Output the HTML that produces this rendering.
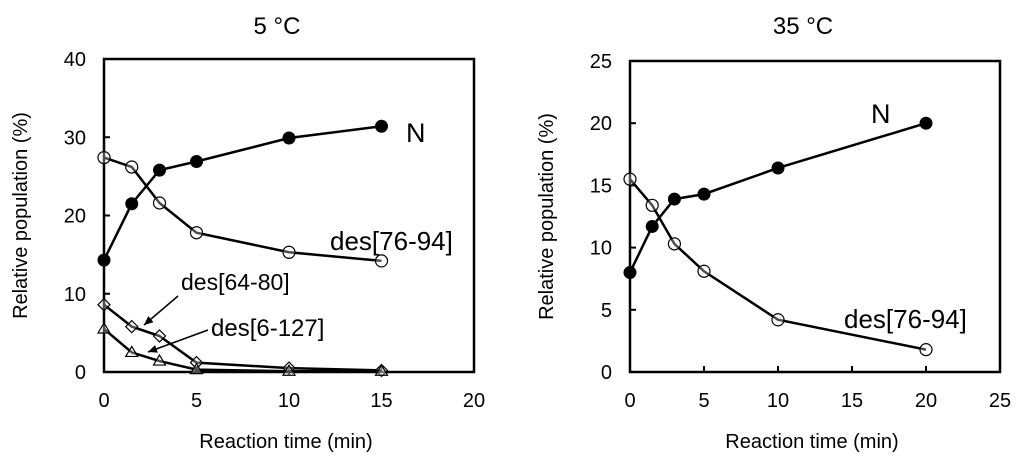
<!DOCTYPE html>
<html><head><meta charset="utf-8"><style>
html,body{margin:0;padding:0;background:#fff;}
svg{display:block;font-family:"Liberation Sans",Arial,sans-serif;}
</style></head><body>
<svg id="c" width="1024" height="471"></svg>
<script>
const leftTimes=[0,1.5,3,5,10,15];
const leftN=[14.3,21.5,25.8,26.9,29.9,31.4];
const leftDes7694=[27.4,26.2,21.6,17.8,15.3,14.2];
const leftDes6480=[8.6,5.8,4.6,1.2,0.5,0.2];
const leftDes6127=[5.5,2.5,1.4,0.3,0.1,0.1];
const leftXTicks=[0,5,10,15,20];
const leftYTicks=[0,10,20,30,40];
const rightTimes=[0,1.5,3,5,10,20];
const rightN=[8,11.7,13.9,14.3,16.4,20];
const rightDes7694=[15.5,13.4,10.3,8.1,4.2,1.8];
const rightXTicks=[0,5,10,15,20,25];
const rightYTicks=[0,5,10,15,20,25];

const NS="http://www.w3.org/2000/svg";
const svg=document.getElementById('c');
function el(tag,attrs,parent,text){const e=document.createElementNS(NS,tag);for(const k in attrs)e.setAttribute(k,attrs[k]);if(text!==undefined)e.textContent=text;(parent||svg).appendChild(e);return e;}

function panel(cfg){
  const g=el('g',{});
  
  
  const sx=v=>cfg.x0+(v-cfg.xmin)/(cfg.xmax-cfg.xmin)*(cfg.x1-cfg.x0);
  const sy=v=>cfg.y0-(v-cfg.ymin)/(cfg.ymax-cfg.ymin)*(cfg.y0-cfg.y1);
  const frame=el('rect',{x:cfg.x0,y:cfg.y1,width:cfg.x1-cfg.x0,height:cfg.y0-cfg.y1,fill:'none',stroke:'#000','stroke-width':2.5},g);
  
  
  cfg.xticks.forEach(t=>{
    el('line',{x1:sx(t),x2:sx(t),y1:cfg.y0,y2:cfg.y0-6,stroke:'#000','stroke-width':2},g);
    const lb=el('text',{x:sx(t),y:cfg.y0+35,'text-anchor':'middle','font-size':20},g,String(t));
    
    
  });
  cfg.yticks.forEach(t=>{
    el('line',{x1:cfg.x0,x2:cfg.x0+6,y1:sy(t),y2:sy(t),stroke:'#000','stroke-width':2},g);
    const lb=el('text',{x:cfg.x0-18,y:sy(t)+7,'text-anchor':'end','font-size':20},g,String(t));
    
    
  });
  const tt=el('text',{x:(cfg.x0+cfg.x1)/2-12,y:34,'text-anchor':'middle','font-size':24},g,cfg.title);
  
  
  const xt=el('text',{x:(cfg.x0+cfg.x1)/2-3,y:448,'text-anchor':'middle','font-size':20},g,'Reaction time (min)');
  
  
  const yx=cfg.x0-77, yc=(cfg.y0+cfg.y1)/2;
  const yt=el('text',{x:yx,y:yc,'text-anchor':'middle','font-size':20,transform:`rotate(-90 ${yx} ${yc})`},g,'Relative population (%)');
  
  
  cfg.series.forEach(s=>{
    const sg=el('g',{},g);
    
    
    const pts=cfg.times.map((t,i)=>sx(t)+','+sy(s.values[i])).join(' ');
    el('polyline',{points:pts,fill:'none',stroke:'#000','stroke-width':2.5},sg);
    cfg.times.forEach((t,i)=>{
      const x=sx(t),y=sy(s.values[i]);let m;
      if(s.marker==='filled')m=el('circle',{cx:x,cy:y,r:6.5,fill:'#000'},sg);
      else if(s.marker==='open')m=el('circle',{cx:x,cy:y,r:6,fill:'#fff','fill-opacity':0.3,stroke:'#000','stroke-width':1.2},sg);
      else if(s.marker==='diamond')m=el('polygon',{points:`${x},${y-6} ${x+6},${y} ${x},${y+6} ${x-6},${y}`,fill:'#fff','fill-opacity':0.3,stroke:'#000','stroke-width':1.2},sg);
      else m=el('polygon',{points:`${x},${y-6} ${x+6},${y+4} ${x-6},${y+4}`,fill:'#fff','fill-opacity':0.3,stroke:'#000','stroke-width':1.2},sg);
      
      
    });
  });
  cfg.labels.forEach(l=>{
    const t=el('text',{x:l.x,y:l.y,'font-size':l.size||26},g,l.text);
    
    
  });
  return g;
}

panel({name:'panel-5c',title:'5 °C',x0:104,x1:474,y0:372,y1:59,xmin:0,xmax:20,ymin:0,ymax:40,
  times:leftTimes,xticks:leftXTicks,yticks:leftYTicks,
  series:[{name:'series-n',values:leftN,marker:'filled'},{name:'series-des76-94',values:leftDes7694,marker:'open'},
          {name:'series-des64-80',values:leftDes6480,marker:'diamond'},{name:'series-des6-127',values:leftDes6127,marker:'tri'}],
  labels:[{text:'N',x:406,y:142,name:'label-n',size:27},{text:'des[76-94]',x:330,y:250,name:'label-des76-94'},
          {text:'des[64-80]',x:181,y:290,name:'label-des64-80',size:23},{text:'des[6-127]',x:211,y:336,name:'label-des6-127',size:24}]});

panel({name:'panel-35c',title:'35 °C',x0:630,x1:1000,y0:372,y1:61,xmin:0,xmax:25,ymin:0,ymax:25,
  times:rightTimes,xticks:rightXTicks,yticks:rightYTicks,
  series:[{name:'series-n',values:rightN,marker:'filled'},{name:'series-des76-94',values:rightDes7694,marker:'open'}],
  labels:[{text:'N',x:871,y:123,name:'label-n',size:27},{text:'des[76-94]',x:844,y:328,name:'label-des76-94'}]});

// arrows
[[178,296,144,325],[208,330,148,352]].forEach(a=>{
  const ln=el('line',{x1:a[0],y1:a[1],x2:a[2],y2:a[3],stroke:'#000','stroke-width':1.5});
  
  
  const dx=a[2]-a[0],dy=a[3]-a[1],L=Math.hypot(dx,dy),ux=dx/L,uy=dy/L;
  const bx=a[2]-ux*9,by=a[3]-uy*9;
  const hd=el('polygon',{points:`${a[2]},${a[3]} ${bx-uy*4},${by+ux*4} ${bx+uy*4},${by-ux*4}`,fill:'#000'});
  
  
});
</script>
</body></html>
